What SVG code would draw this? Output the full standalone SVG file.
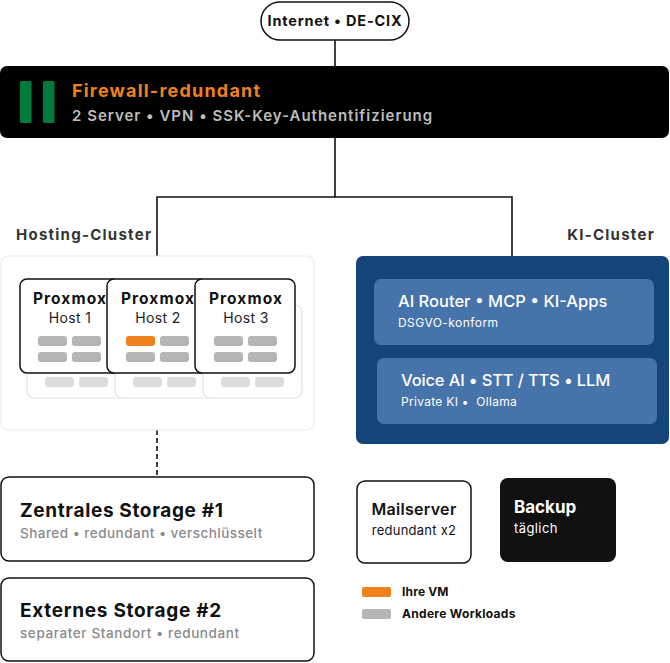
<svg xmlns="http://www.w3.org/2000/svg" width="670" height="663" viewBox="0 0 670 663">
<style>
text{font-family:Inter,"Noto Sans","Liberation Sans",sans-serif}
.conn{stroke:#111;stroke-width:1.6;fill:none}
.host{fill:#fff;stroke:#111;stroke-width:1.5}
.hostb{fill:#fff;stroke:#e2e2e2;stroke-width:1.2}
.vm{fill:#b5b5b5}
.vmb{fill:#dcdcdc}
.vmo{fill:#F0821E}
.pt{font-size:15.5px;font-weight:700;fill:#111;text-anchor:middle;letter-spacing:1.1px}
.ph{font-size:14px;font-weight:400;fill:#222;text-anchor:middle;letter-spacing:0.35px}
.box{fill:#fff;stroke:#111;stroke-width:1.5}
.st{font-size:19px;font-weight:700;fill:#111}
.ss{font-size:13.5px;font-weight:500;fill:#8a8a8a}
.lbl{font-size:15px;font-weight:700;fill:#333;letter-spacing:1.25px}
.kib{fill:#4673AA}
.kt{font-size:16.5px;font-weight:500;fill:#fff}
.ks{font-size:12px;font-weight:400;fill:#fff}
.leg{font-size:12px;font-weight:700;fill:#111}
</style>
<g id="connectors">
<line class="conn" x1="335" y1="40" x2="335" y2="66"/>
<path class="conn" d="M335 138 V197 M157 256 V197 H512 V256"/>
<line class="conn" x1="157" y1="430" x2="157" y2="477" stroke-dasharray="5 3"/>
</g>
<g id="internet">
<rect x="261" y="2" width="148" height="38" rx="19" fill="#fff" stroke="#111" stroke-width="1.5"/>
<text x="335" y="26" font-size="14.5" font-weight="700" fill="#111" text-anchor="middle" letter-spacing="0.8">Internet • DE-CIX</text>
</g>
<g id="firewall">
<rect x="0" y="66" width="669" height="72" rx="7" fill="#000"/>
<rect x="20" y="81" width="11.5" height="42" rx="1.5" fill="#007A3D"/>
<rect x="43" y="81" width="11.5" height="42" rx="1.5" fill="#007A3D"/>
<text x="72" y="97" font-size="18" font-weight="700" fill="#F0821E" letter-spacing="1.2">Firewall-redundant</text>
<text x="72" y="121" font-size="15" font-weight="600" fill="#bdbdbd" letter-spacing="1">2 Server • VPN • SSK-Key-Authentifizierung</text>
</g>
<g id="hosting-cluster">
<text class="lbl" x="16" y="240">Hosting-Cluster</text>
<rect x="1" y="256" width="313" height="174" rx="7" fill="#fff" stroke="#ececec" stroke-width="1.2"/>
<rect class="hostb" x="27" y="305" width="100" height="93" rx="7"/>
<rect class="vmb" x="45" y="377" width="29" height="10" rx="3"/>
<rect class="vmb" x="79" y="377" width="29" height="10" rx="3"/>
<rect class="hostb" x="115" y="305" width="100" height="93" rx="7"/>
<rect class="vmb" x="133" y="377" width="29" height="10" rx="3"/>
<rect class="vmb" x="167" y="377" width="29" height="10" rx="3"/>
<rect class="hostb" x="203" y="305" width="99" height="93" rx="7"/>
<rect class="vmb" x="221" y="377" width="29" height="10" rx="3"/>
<rect class="vmb" x="255" y="377" width="29" height="10" rx="3"/>
</g>
<g id="host1">
<rect class="host" x="20" y="279" width="100" height="94" rx="7"/>
<text class="pt" x="70" y="304">Proxmox</text>
<text class="ph" x="70" y="323">Host 1</text>
<rect class="vm" x="38" y="336" width="29" height="10" rx="3"/>
<rect class="vm" x="72" y="336" width="29" height="10" rx="3"/>
<rect class="vm" x="38" y="352" width="29" height="10" rx="3"/>
<rect class="vm" x="72" y="352" width="29" height="10" rx="3"/>
</g>
<g id="host2">
<rect class="host" x="107" y="279" width="100" height="94" rx="7"/>
<text class="pt" x="158" y="304">Proxmox</text>
<text class="ph" x="158" y="323">Host 2</text>
<rect class="vmo" x="126" y="336" width="29" height="10" rx="3"/>
<rect class="vm" x="160" y="336" width="29" height="10" rx="3"/>
<rect class="vm" x="126" y="352" width="29" height="10" rx="3"/>
<rect class="vm" x="160" y="352" width="29" height="10" rx="3"/>
</g>
<g id="host3">
<rect class="host" x="195" y="279" width="100" height="94" rx="7"/>
<text class="pt" x="246" y="304">Proxmox</text>
<text class="ph" x="246" y="323">Host 3</text>
<rect class="vm" x="214" y="336" width="29" height="10" rx="3"/>
<rect class="vm" x="248" y="336" width="29" height="10" rx="3"/>
<rect class="vm" x="214" y="352" width="29" height="10" rx="3"/>
<rect class="vm" x="248" y="352" width="29" height="10" rx="3"/>
</g>
<g id="ki-cluster">
<text class="lbl" x="655" y="240" text-anchor="end">KI-Cluster</text>
<rect x="356" y="256" width="313" height="188" rx="7" fill="#154578"/>
<rect class="kib" x="374" y="279" width="280" height="66" rx="7"/>
<text class="kt" x="398" y="307">AI Router • MCP • KI-Apps</text>
<text class="ks" x="398" y="327" letter-spacing="0.45">DSGVO-konform</text>
<rect class="kib" x="377" y="358" width="280" height="66" rx="7"/>
<text class="kt" x="401" y="386" letter-spacing="-0.15">Voice AI • STT / TTS • LLM</text>
<text class="ks" x="401" y="406" letter-spacing="0.3" xml:space="preserve">Private KI •  Ollama</text>
</g>
<g id="storage1">
<rect class="box" x="1" y="477" width="313" height="84" rx="8"/>
<text class="st" x="20" y="517" letter-spacing="0.65">Zentrales Storage #1</text>
<text class="ss" x="20" y="538" letter-spacing="0.47">Shared • redundant • verschlüsselt</text>
</g>
<g id="storage2">
<rect class="box" x="1" y="578" width="313" height="83" rx="8"/>
<text class="st" x="20" y="617" letter-spacing="0.7">Externes Storage #2</text>
<text class="ss" x="20" y="638" letter-spacing="0.6">separater Standort • redundant</text>
</g>
<g id="mailserver">
<rect class="box" x="357" y="481" width="114" height="82" rx="8"/>
<text x="414" y="515" font-size="16" font-weight="600" fill="#111" text-anchor="middle" letter-spacing="0.3">Mailserver</text>
<text x="414" y="535" font-size="13" font-weight="400" fill="#111" text-anchor="middle" letter-spacing="0.25">redundant x2</text>
</g>
<g id="backup">
<rect x="500" y="478" width="116" height="84" rx="8" fill="#111"/>
<text x="514" y="513" font-size="17" font-weight="700" fill="#fff">Backup</text>
<text x="514" y="533" font-size="13" font-weight="400" fill="#fff" letter-spacing="0.4">täglich</text>
</g>
<g id="legend">
<rect class="vmo" x="362" y="587" width="29" height="10" rx="2"/>
<text class="leg" x="402" y="596" letter-spacing="0.15">Ihre VM</text>
<rect class="vm" x="362" y="609" width="29" height="10" rx="2"/>
<text class="leg" x="402" y="618" letter-spacing="0.3">Andere Workloads</text>
</g>
</svg>
